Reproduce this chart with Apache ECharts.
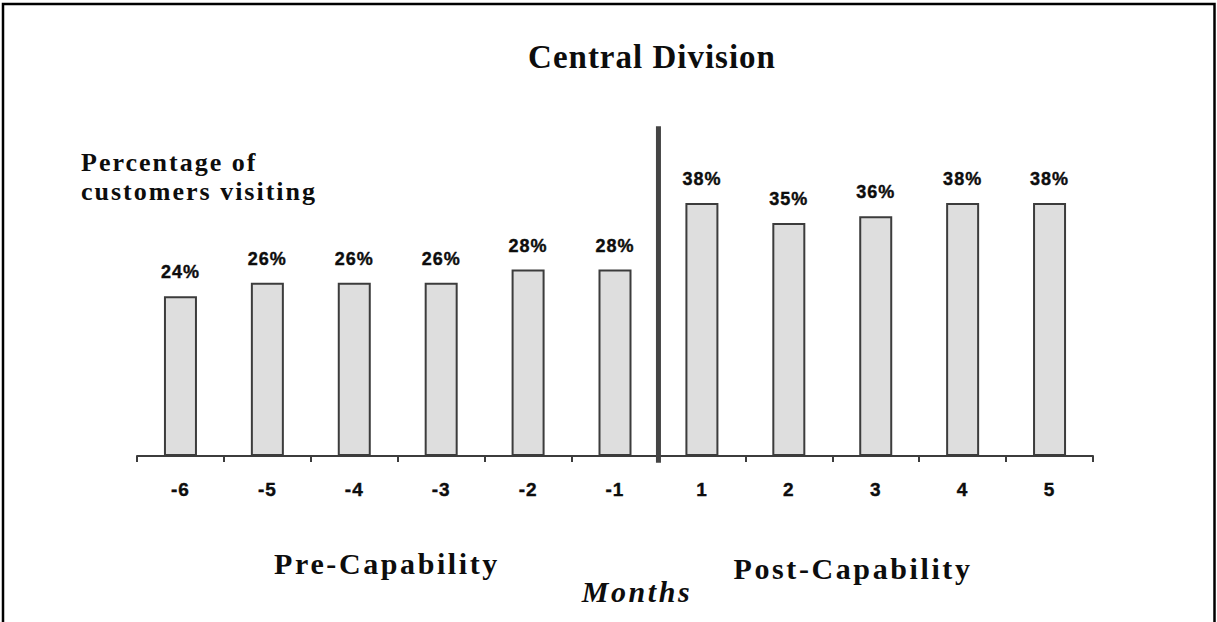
<!DOCTYPE html>
<html>
<head>
<meta charset="utf-8">
<script src="https://cdn.jsdelivr.net/npm/echarts@6/dist/echarts.min.js"></script>
<style>
  html, body { margin: 0; padding: 0; background: #ffffff; }
  #chart { width: 1217px; height: 622px; }
  /* wide-set lettering, as in the printed slide */
  #chart text[style*="Sans"] { letter-spacing: 1px; }
  #chart text[style*="Serif"][style*="33px"] { letter-spacing: 1px; }
  #chart text[style*="Serif"][style*="26px"] { letter-spacing: 2px; }
  #chart text[style*="Serif"][style*="30px"] { letter-spacing: 2.6px; }
</style>
</head>
<body>
<div id="chart"></div>
<script>
// Months relative to the capability launch
const months = ['-6', '-5', '-4', '-3', '-2', '-1', '1', '2', '3', '4', '5'];
// Percentage of customers visiting in each month
const visitingPct = [24, 26, 26, 26, 28, 28, 38, 35, 36, 38, 38];
// Number of months before launch (divider is drawn after them)
const preMonths = 6;
const titleText = 'Central Division';
const yAxisTitle = 'Percentage of\ncustomers visiting';
const periodLabels = ['Pre-Capability', 'Post-Capability'];
const xAxisTitle = 'Months';

const SERIF = 'Liberation Serif';
const SANS = 'Liberation Sans';
const INK = '#0d0d0d';
const LINE = '#3c3c3c';

const chart = echarts.init(document.getElementById('chart'), null, { renderer: 'svg' });

chart.setOption({
  animation: false,
  backgroundColor: '#ffffff',
  grid: { left: 137, right: 124, top: 123, bottom: 166 },
  xAxis: [
    {
      type: 'category',
      data: months,
      boundaryGap: true,
      axisLine: { show: true, lineStyle: { color: LINE, width: 2 } },
      axisTick: { show: true, length: 6, lineStyle: { color: LINE, width: 2 } },
      axisLabel: {
        margin: 24,
        color: INK,
        fontFamily: SANS,
        fontWeight: 'bold',
        fontSize: 19,
        textBorderColor: INK,
        textBorderWidth: 0.4
      },
      splitLine: { show: false }
    },
    {
      // helper axis for the launch divider, spans the same categories
      type: 'value',
      min: 0,
      max: months.length,
      show: false
    }
  ],
  yAxis: {
    type: 'value',
    min: 0,
    max: 50,
    show: false,
    splitLine: { show: false }
  },
  graphic: [
    {
      type: 'rect',
      shape: { x: 3, y: 4, width: 1211.5, height: 700 },
      style: { fill: 'none', stroke: '#000000', lineWidth: 2.5 },
      silent: true
    },
    {
      type: 'text',
      x: 652, y: 57,
      style: {
        text: titleText,
        font: 'bold 33px "' + SERIF + '"',
        fill: INK,
        textAlign: 'center',
        textVerticalAlign: 'middle'
      }
    },
    {
      type: 'text',
      x: 81, y: 177,
      style: {
        text: yAxisTitle,
        font: 'bold 26px "' + SERIF + '"',
        lineHeight: 28.6,
        fill: INK,
        textAlign: 'left',
        textVerticalAlign: 'middle'
      }
    },
    {
      type: 'text',
      x: 387, y: 563,
      style: {
        text: periodLabels[0],
        font: 'bold 30px "' + SERIF + '"',
        fill: INK,
        textAlign: 'center',
        textVerticalAlign: 'middle'
      }
    },
    {
      type: 'text',
      x: 853, y: 568,
      style: {
        text: periodLabels[1],
        font: 'bold 30px "' + SERIF + '"',
        fill: INK,
        textAlign: 'center',
        textVerticalAlign: 'middle'
      }
    },
    {
      type: 'text',
      x: 637, y: 591,
      style: {
        text: xAxisTitle,
        font: 'italic bold 30px "' + SERIF + '"',
        fill: INK,
        textAlign: 'center',
        textVerticalAlign: 'middle'
      }
    }
  ],
  series: [
    {
      type: 'bar',
      data: visitingPct,
      barWidth: 33,
      itemStyle: { color: '#dedede', borderColor: LINE, borderWidth: 2 },
      label: {
        show: true,
        position: 'top',
        distance: 15,
        formatter: '{c}%',
        color: INK,
        fontFamily: SANS,
        fontWeight: 'bold',
        fontSize: 18,
        textBorderColor: INK,
        textBorderWidth: 0.4
      },
      silent: true
    },
    {
      // launch divider between the last pre- and first post-capability month
      type: 'line',
      xAxisIndex: 1,
      yAxisIndex: 0,
      data: [[preMonths, -1], [preMonths, 49.5]],
      symbol: 'none',
      clip: false,
      lineStyle: { color: '#444444', width: 5 },
      silent: true,
      z: 5
    }
  ]
});
</script>
</body>
</html>
